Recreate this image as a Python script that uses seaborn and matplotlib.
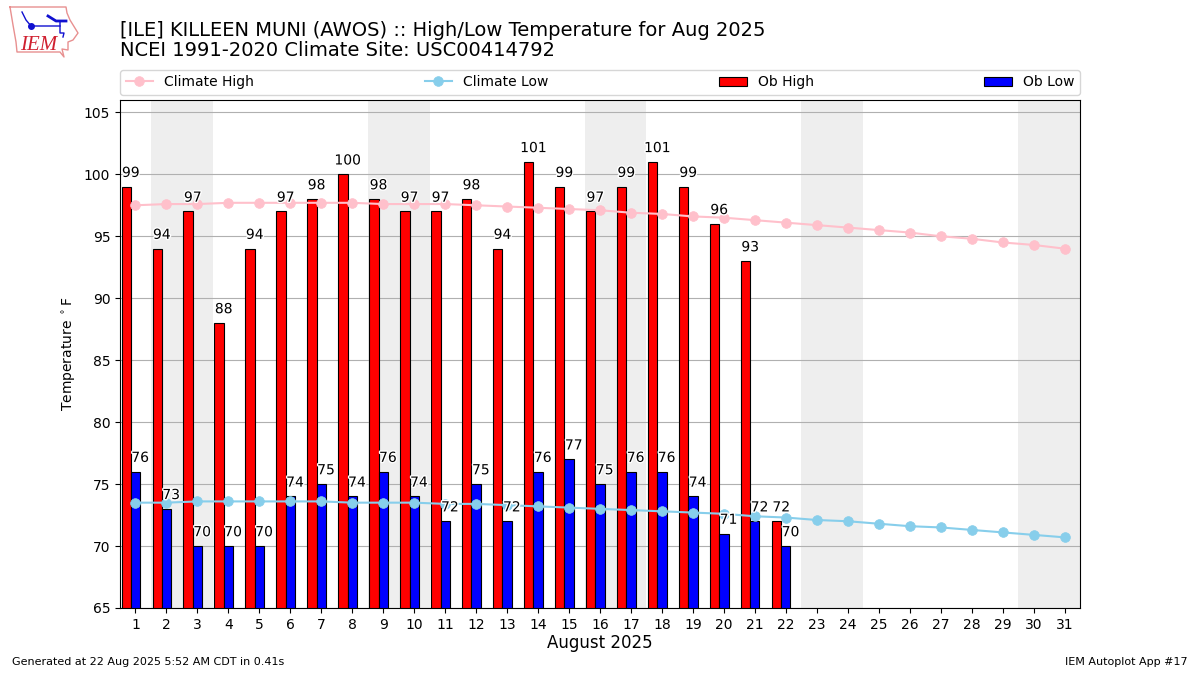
import pandas as pd
import matplotlib
matplotlib.use("Agg")
import matplotlib.pyplot as plt
import matplotlib.patheffects as pe
import seaborn as sns

days = list(range(1, 32))
ob_days = list(range(1, 23))
climate_high = [97.5, 97.6, 97.6, 97.7, 97.7, 97.7, 97.7, 97.7, 97.6, 97.6, 97.6,
                97.5, 97.4, 97.3, 97.2, 97.1, 96.9, 96.8, 96.6, 96.5, 96.3, 96.1,
                95.9, 95.7, 95.5, 95.3, 95.0, 94.8, 94.5, 94.3, 94.0]
climate_low = [73.5, 73.5, 73.6, 73.6, 73.6, 73.6, 73.6, 73.5, 73.5, 73.5, 73.4,
               73.4, 73.3, 73.2, 73.1, 73.0, 72.9, 72.8, 72.7, 72.6, 72.4, 72.3,
               72.1, 72.0, 71.8, 71.6, 71.5, 71.3, 71.1, 70.9, 70.7]
ob_high = [99, 94, 97, 88, 94, 97, 98, 100, 98, 97, 97, 98, 94, 101, 99, 97, 99,
           101, 99, 96, 93, 72]
ob_low = [76, 73, 70, 70, 70, 74, 75, 74, 76, 74, 72, 75, 72, 76, 77, 75, 76, 76,
          74, 71, 72, 70]
weekends = [(2, 3), (9, 10), (16, 17), (23, 24), (30, 31)]

fig = plt.figure(figsize=(12, 6.75), dpi=100)
ax = fig.add_axes([0.1, 0.0993, 0.8, 0.7526])

clim = pd.DataFrame({"day": days, "high": climate_high, "low": climate_low})
obs = pd.DataFrame({"day": ob_days, "high": ob_high, "low": ob_low})
obs["high_pos"] = obs["day"] - 0.3

for start, end in weekends:
    ax.axvspan(start - 0.5, end + 0.5, color="#eeeeee", lw=0, zorder=0)

sns.lineplot(data=clim, x="day", y="high", color="pink", marker="o", markersize=7,
             markeredgecolor="pink", markeredgewidth=0.5, linewidth=1.5,
             label="Climate High", ax=ax, zorder=3)
sns.lineplot(data=clim, x="day", y="low", color="skyblue", marker="o", markersize=7,
             markeredgecolor="skyblue", markeredgewidth=0.5, linewidth=1.5,
             label="Climate Low", ax=ax, zorder=3)
sns.barplot(data=obs, x="high_pos", y="high", native_scale=True, width=0.3,
            color="red", saturation=1, edgecolor="k", linewidth=0.8,
            label="Ob High", ax=ax)
sns.barplot(data=obs, x="day", y="low", native_scale=True, width=0.3,
            color="blue", saturation=1, edgecolor="k", linewidth=0.8,
            label="Ob Low", ax=ax)

# values sit above each bar, halo keeps them readable over the climate lines
halo = [pe.withStroke(linewidth=2, foreground="white")]
for d, hi, lo in zip(ob_days, ob_high, ob_low):
    ax.text(d - 0.15, hi + 0.55, str(hi), ha="center", va="bottom", fontsize=10,
            path_effects=halo, zorder=5)
    ax.text(d + 0.15, lo + 0.55, str(lo), ha="center", va="bottom", fontsize=10,
            path_effects=halo, zorder=5)

ax.set_xlim(0.5, 31.5)
ax.set_ylim(65, 106)
ax.set_xticks(days)
ax.set_xticklabels([str(d) for d in days])
ax.set_yticks(range(65, 110, 5))
ax.set_axisbelow(True)
ax.grid(axis="y", color="#b0b0b0", linewidth=0.8)
ax.grid(axis="x", visible=False)
ax.set_xlabel("August 2025", fontsize=12, labelpad=2)
ax.set_ylabel(r"Temperature $^\circ$F")

ax.legend(loc="lower left", bbox_to_anchor=(0, 1.01, 1, 0.04), ncol=4, mode="expand",
          borderaxespad=0, fontsize=10)

fig.text(0.1, 0.9104, "[ILE] KILLEEN MUNI (AWOS) :: High/Low Temperature for Aug 2025\n"
         "NCEI 1991-2020 Climate Site: USC00414792", fontsize=14, va="bottom", ha="left",
         linespacing=1.1)
fig.text(0.01, 0.0115, "Generated at 22 Aug 2025 5:52 AM CDT in 0.41s", fontsize=8, va="bottom")
fig.text(0.99, 0.0115, "IEM Autoplot App #17", fontsize=8, va="bottom", ha="right")

# rough IEM logo, drawn in pixel coords of the figure
logo = fig.add_axes([0, 1 - 60 / 675, 80 / 1200, 60 / 675])
logo.set_xlim(0, 80)
logo.set_ylim(60, 0)
logo.axis("off")
outline_x = [10, 66, 67, 70, 78, 73, 68, 68, 62, 64, 60, 17, 16, 13, 10]
outline_y = [7, 7, 13, 20, 33, 40, 42, 50, 49, 57, 52, 52, 42, 25, 7]
logo.plot(outline_x, outline_y, color="#e89090", lw=1)
logo.plot([22, 26, 31, 60], [12, 20, 26, 26], color="#1010d0", lw=1)
logo.plot([48, 56, 66], [16, 21, 21], color="#1010d0", lw=2)
logo.plot([60, 60, 64, 63], [22, 33, 33, 37], color="#1010d0", lw=1)
logo.plot([31], [26], "o", color="#1010d0", ms=4)
logo.text(20, 45, "IEM", color="#d02030", fontsize=15, family="Liberation Serif",
          style="italic", va="center", ha="left")

fig.savefig("out.png", dpi=100)
